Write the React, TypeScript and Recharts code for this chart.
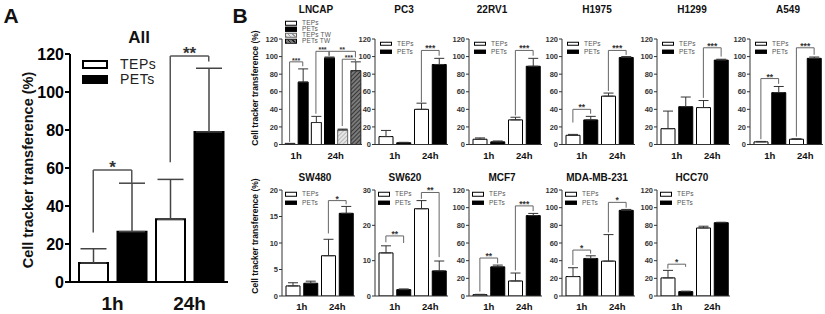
import React from "react";
import { BarChart, Bar, XAxis, YAxis, ErrorBar, Cell, ReferenceLine } from "recharts";

// bar order in most panels: TEPs 1h, PETs 1h, TEPs 24h, PETs 24h
const pairKinds = ["tep", "pet", "tep", "pet"];
const pairGroups: [string, number, number][] = [["1h", 0, 2], ["24h", 2, 2]];
// LNCAP: TEPs 1h, PETs 1h, TEPs 24h, PETs 24h, TEPs TW 24h, PETs TW 24h
const lncapKinds = ["tep", "pet", "tep", "pet", "tepTw", "petTw"];
const lncapGroups: [string, number, number][] = [["1h", 0, 2], ["24h", 2, 4]];

const ticks120 = [0, 20, 40, 60, 80, 100, 120];
const ticks20 = [0, 5, 10, 15, 20];
const ticks30 = [0, 10, 20, 30];

const allMean = [10, 26.5, 33, 79];
const allSd = [7.5, 25.5, 21, 33.5];

const lncapMean = [1, 71, 25, 98.5, 16.5, 84];
const lncapSd = [0.3, 15, 7, 1, 1, 10];
const pc3Mean = [9, 2, 40, 91];
const pc3Sd = [7, 0.5, 7, 7];
const rv22Mean = [6, 3, 28, 89];
const rv22Sd = [1.5, 1, 3, 9];
const h1975Mean = [10.5, 28, 55, 99];
const h1975Sd = [1, 4, 3.5, 1];
const h1299Mean = [18, 43, 42, 96];
const h1299Sd = [20, 11, 8, 1];
const a549Mean = [3, 59, 6, 98];
const a549Sd = [0.5, 7, 0.5, 1.5];

const sw480Mean = [1.9, 2.4, 7.6, 15.6];
const sw480Sd = [0.6, 0.4, 3.1, 1.3];
const sw620Mean = [12.2, 1.8, 24.7, 7.1];
const sw620Sd = [2, 0.2, 2.3, 2.8];
const mcf7Mean = [1.5, 33, 17, 91];
const mcf7Sd = [0.4, 2, 9, 2.5];
const mdaMean = [22, 42.5, 39.5, 97];
const mdaSd = [10, 3, 30, 1];
const hcc70Mean = [20.5, 5, 77, 83];
const hcc70Sd = [8.5, 0.5, 2, 0.5];

// significance brackets: [from bar, to bar, stars, top, left foot, right foot]
type Bracket = [number, number, string, number, number, number];
const allBrackets: Bracket[] = [[0, 1, "*", 59, 26, 52], [2, 3, "**", 119, 63, 116]];
const lncapBrackets: Bracket[] = [
  [0, 1, "***", 94, 3, 89],
  [2, 3, "***", 106, 35, 101],
  [3, 5, "**", 106, 101, 99],
  [4, 5, "***", 97, 21, 95],
];
const pc3Brackets: Bracket[] = [[2, 3, "***", 107, 48, 101]];
const rv22Brackets: Bracket[] = [[2, 3, "***", 107, 33, 101]];
const h1975Brackets: Bracket[] = [[0, 1, "**", 40, 25, 35], [2, 3, "***", 107, 61, 102]];
const h1299Brackets: Bracket[] = [[2, 3, "***", 110, 53, 100]];
const a549Brackets: Bracket[] = [[0, 1, "**", 75, 6, 69], [2, 3, "***", 110, 9, 102]];
const sw480Brackets: Bracket[] = [[2, 3, "*", 18, 11.8, 17.3]];
const sw620Brackets: Bracket[] = [[0, 1, "**", 17, 15.2, 15], [2, 3, "**", 29.3, 27.5, 11]];
const mcf7Brackets: Bracket[] = [[0, 1, "**", 43, 5, 37], [2, 3, "***", 102, 29, 96]];
const mdaBrackets: Bracket[] = [[0, 1, "*", 52, 35, 48], [2, 3, "*", 106, 72, 100]];
const hcc70Brackets: Bracket[] = [[0, 1, "*", 36, 31, 33]];

const FONT = "'Liberation Sans', Arial, sans-serif";

const barStyle: Record<string, { fill: string; stroke: string }> = {
  tep: { fill: "#ffffff", stroke: "#000000" },
  pet: { fill: "#000000", stroke: "#000000" },
  tepTw: { fill: "url(#hatchLight)", stroke: "#666666" },
  petTw: { fill: "url(#hatchDark)", stroke: "#222222" },
};

interface PanelProps {
  left: number;
  top: number;
  bottom: number;
  plotW: number;
  padL: number;
  barW: number;
  yMax: number;
  ticks: number[];
  mean: number[];
  sd: number[];
  kinds: string[];
  groups: [string, number, number][];
  brackets: Bracket[];
  starSize?: number;
  big?: boolean;
}

function Panel(p: PanelProps) {
  const n = p.mean.length;
  const rows = p.mean.map((v, i) => ({ id: `b${i}`, v, err: [0, p.sd[i]], kind: p.kinds[i] }));
  const plotH = p.bottom - p.top;
  const mt = p.big ? 20 : 12;
  const xh = p.big ? 34 : 18;
  const yw = p.big ? 46 : 22;
  const mr = 6;
  const band = (p.plotW - p.padL) / n;
  const axisColor = p.big ? "#000" : "#333";
  const lineColor = p.big ? "#555" : "#666";

  const tick = (props: any) => {
    const g = p.groups.find((gr) => gr[1] === props.index);
    if (!g) return <g />;
    return (
      <text
        x={props.x + ((g[2] - 1) * band) / 2}
        y={mt + plotH + (p.big ? 21 : 10.5)}
        textAnchor="middle"
        dominantBaseline="central"
        fontFamily={FONT}
        fontWeight={700}
        fontSize={p.big ? 19 : 9.5}
        fill="#111"
      >
        {g[0]}
      </text>
    );
  };

  return (
    <div style={{ position: "absolute", left: p.left - yw, top: p.top - mt }}>
      <BarChart
        width={yw + p.plotW + mr}
        height={mt + plotH + xh}
        data={rows}
        margin={{ top: mt, right: mr, bottom: 0, left: 0 }}
        barCategoryGap={0}
      >
        <defs>
          <pattern id="hatchLight" width="3" height="3" patternUnits="userSpaceOnUse" patternTransform="rotate(45)">
            <rect width="3" height="3" fill="#e6e6e6" />
            <line x1="0" y1="0" x2="0" y2="3" stroke="#9a9a9a" strokeWidth="1.2" />
          </pattern>
          <pattern id="hatchDark" width="3" height="3" patternUnits="userSpaceOnUse" patternTransform="rotate(45)">
            <rect width="3" height="3" fill="#7a7a7a" />
            <line x1="0" y1="0" x2="0" y2="3" stroke="#1a1a1a" strokeWidth="1.4" />
          </pattern>
        </defs>
        <XAxis
          dataKey="id"
          interval={0}
          tickLine={false}
          tick={tick}
          height={xh}
          padding={{ left: p.padL, right: 0 }}
          axisLine={{ stroke: axisColor, strokeWidth: p.big ? 2 : 1 }}
        />
        <YAxis
          domain={[0, p.yMax]}
          ticks={p.ticks}
          interval={0}
          width={yw}
          allowDataOverflow
          tickSize={p.big ? 5 : 3}
          tickMargin={1}
          axisLine={{ stroke: axisColor, strokeWidth: p.big ? 2 : 1 }}
          tickLine={{ stroke: axisColor, strokeWidth: p.big ? 2 : 1 }}
          tick={{ fontSize: p.big ? 16 : 7.5, fontWeight: 700, fill: p.big ? "#000" : "#333", fontFamily: FONT }}
        />
        <Bar dataKey="v" barSize={p.barW} isAnimationActive={false} strokeWidth={p.big ? 2 : 1}>
          {rows.map((r) => (
            <Cell key={r.id} fill={barStyle[r.kind].fill} stroke={barStyle[r.kind].stroke} />
          ))}
          <ErrorBar dataKey="err" width={p.big ? 13 : 5} stroke={p.big ? "#444" : "#333"} strokeWidth={p.big ? 1.5 : 1} />
        </Bar>
        {p.brackets.map((b, i) => {
          const a = rows[b[0]].id;
          const c = rows[b[1]].id;
          const sw = p.big ? 1.5 : 1;
          return (
            <React.Fragment key={i}>
              <ReferenceLine segment={[{ x: a, y: b[4] }, { x: a, y: b[3] }]} stroke={lineColor} strokeWidth={sw} ifOverflow="visible" />
              <ReferenceLine segment={[{ x: c, y: b[3] }, { x: c, y: b[5] }]} stroke={lineColor} strokeWidth={sw} ifOverflow="visible" />
              <ReferenceLine
                segment={[{ x: a, y: b[3] }, { x: c, y: b[3] }]}
                stroke={lineColor}
                strokeWidth={sw}
                ifOverflow="visible"
                label={{
                  value: b[2],
                  position: "top",
                  offset: p.big ? -3 : -1,
                  fontSize: p.starSize ?? (p.big ? 17 : 8.5),
                  fontWeight: 700,
                  fill: "#333",
                  fontFamily: FONT,
                }}
              />
            </React.Fragment>
          );
        })}
      </BarChart>
    </div>
  );
}

function Swatch({ kind, w, h, bw }: { kind: string; w: number; h: number; bw: number }) {
  const bg: Record<string, string> = {
    tep: "#fff",
    pet: "#000",
    tepTw: "repeating-linear-gradient(45deg, #999 0 1px, #e6e6e6 1px 3px)",
    petTw: "repeating-linear-gradient(45deg, #1a1a1a 0 1px, #7a7a7a 1px 3px)",
  };
  return (
    <div
      style={{
        width: w,
        height: h,
        boxSizing: "border-box",
        border: `${bw}px solid ${kind === "tepTw" ? "#666" : "#000"}`,
        background: bg[kind],
      }}
    />
  );
}

const legendNames: Record<string, string> = { tep: "TEPs", pet: "PETs", tepTw: "TEPs TW", petTw: "PETs TW" };

function Legend({ x, y, kinds, gap, big }: { x: number; y: number; kinds: string[]; gap: number; big?: boolean }) {
  return (
    <>
      {kinds.map((k, i) => (
        <div
          key={k}
          style={{
            position: "absolute",
            left: x,
            top: y + i * gap,
            display: "flex",
            alignItems: "center",
            transform: "translateY(-50%)",
            whiteSpace: "nowrap",
          }}
        >
          <Swatch kind={k} w={big ? 26 : 12} h={big ? 9 : 4.5} bw={big ? 2 : 1} />
          <span
            style={{
              marginLeft: big ? 12 : 5,
              fontSize: big ? 14 : 6.5,
              color: big ? "#222" : "#555",
              fontFamily: FONT,
              letterSpacing: big ? 0.5 : 0.2,
              lineHeight: 1,
            }}
          >
            {legendNames[k]}
          </span>
        </div>
      ))}
    </>
  );
}

function Title({ x, y, text, size }: { x: number; y: number; text: string; size: number }) {
  return (
    <div
      style={{
        position: "absolute",
        left: x,
        top: y,
        transform: "translate(-50%, -50%)",
        fontFamily: FONT,
        fontWeight: 700,
        fontSize: size,
        color: "#111",
        whiteSpace: "nowrap",
        lineHeight: 1,
      }}
    >
      {text}
    </div>
  );
}

function YLabel({ x, y, size }: { x: number; y: number; size: number }) {
  return (
    <div
      style={{
        position: "absolute",
        left: x,
        top: y,
        transform: "translate(-50%, -50%) rotate(-90deg)",
        fontFamily: FONT,
        fontWeight: 700,
        fontSize: size,
        color: "#111",
        whiteSpace: "nowrap",
        lineHeight: 1,
      }}
    >
      Cell tracker transference (%)
    </div>
  );
}

const TOP_Y = 38.5;
const TOP_B = 144;
const BOT_Y = 190;
const BOT_B = 296;

const topRow = [
  { name: "LNCAP", left: 282, tx: 316, mean: lncapMean, sd: lncapSd, br: lncapBrackets },
  { name: "PC3", left: 375, tx: 404, mean: pc3Mean, sd: pc3Sd, br: pc3Brackets },
  { name: "22RV1", left: 469, tx: 492, mean: rv22Mean, sd: rv22Sd, br: rv22Brackets },
  { name: "H1975", left: 562, tx: 597, mean: h1975Mean, sd: h1975Sd, br: h1975Brackets },
  { name: "H1299", left: 657, tx: 692, mean: h1299Mean, sd: h1299Sd, br: h1299Brackets },
  { name: "A549", left: 750, tx: 788, mean: a549Mean, sd: a549Sd, br: a549Brackets },
];

const bottomRow = [
  { name: "SW480", left: 282, tx: 315, mean: sw480Mean, sd: sw480Sd, br: sw480Brackets, yMax: 20, ticks: ticks20 },
  { name: "SW620", left: 375, tx: 405, mean: sw620Mean, sd: sw620Sd, br: sw620Brackets, yMax: 30, ticks: ticks30 },
  { name: "MCF7", left: 469, tx: 502, mean: mcf7Mean, sd: mcf7Sd, br: mcf7Brackets, yMax: 120, ticks: ticks120 },
  { name: "MDA-MB-231", left: 562, tx: 597, mean: mdaMean, sd: mdaSd, br: mdaBrackets, yMax: 120, ticks: ticks120 },
  { name: "HCC70", left: 657, tx: 692, mean: hcc70Mean, sd: hcc70Sd, br: hcc70Brackets, yMax: 120, ticks: ticks120 },
];

export default function App() {
  return (
    <div style={{ position: "relative", width: 825, height: 314, background: "#fff", overflow: "hidden" }}>
      <style>{"body{margin:0}"}</style>

      <Title x={11} y={15} text="A" size={21} />
      <Title x={240} y={15} text="B" size={21} />

      {/* panel A */}
      <Title x={139} y={37} text="All" size={17} />
      <YLabel x={28} y={170} size={14.5} />
      <Panel
        left={70}
        top={54}
        bottom={282}
        plotW={158}
        padL={4}
        barW={29}
        yMax={120}
        ticks={ticks120}
        mean={allMean}
        sd={allSd}
        kinds={pairKinds}
        groups={pairGroups}
        brackets={allBrackets}
        big
      />
      <Legend x={82} y={64} kinds={["tep", "pet"]} gap={15} big />

      {/* panel B */}
      <YLabel x={255} y={88} size={8.5} />
      <YLabel x={255} y={236} size={8.5} />

      {topRow.map((c, i) => (
        <React.Fragment key={c.name}>
          <Title x={c.tx} y={10} text={c.name} size={10} />
          <Panel
            left={c.left}
            top={TOP_Y}
            bottom={TOP_B}
            plotW={i === 0 ? 80 : 73}
            padL={i === 0 ? 1 : 2}
            barW={i === 0 ? 10 : 14}
            yMax={120}
            ticks={ticks120}
            mean={c.mean}
            sd={c.sd}
            kinds={i === 0 ? lncapKinds : pairKinds}
            groups={i === 0 ? lncapGroups : pairGroups}
            brackets={c.br}
            starSize={i === 0 ? 7 : undefined}
          />
          {i === 0 ? (
            <Legend x={285} y={23} kinds={["tep", "pet", "tepTw", "petTw"]} gap={6} />
          ) : (
            <Legend x={c.left + 5} y={TOP_Y + 5} kinds={["tep", "pet"]} gap={8} />
          )}
        </React.Fragment>
      ))}

      {bottomRow.map((c) => (
        <React.Fragment key={c.name}>
          <Title x={c.tx} y={178} text={c.name} size={10} />
          <Panel
            left={c.left}
            top={BOT_Y}
            bottom={BOT_B}
            plotW={73}
            padL={2}
            barW={14}
            yMax={c.yMax}
            ticks={c.ticks}
            mean={c.mean}
            sd={c.sd}
            kinds={pairKinds}
            groups={pairGroups}
            brackets={c.br}
          />
          <Legend x={c.left + 3} y={BOT_Y + 4} kinds={["tep", "pet"]} gap={8.5} />
        </React.Fragment>
      ))}
    </div>
  );
}
